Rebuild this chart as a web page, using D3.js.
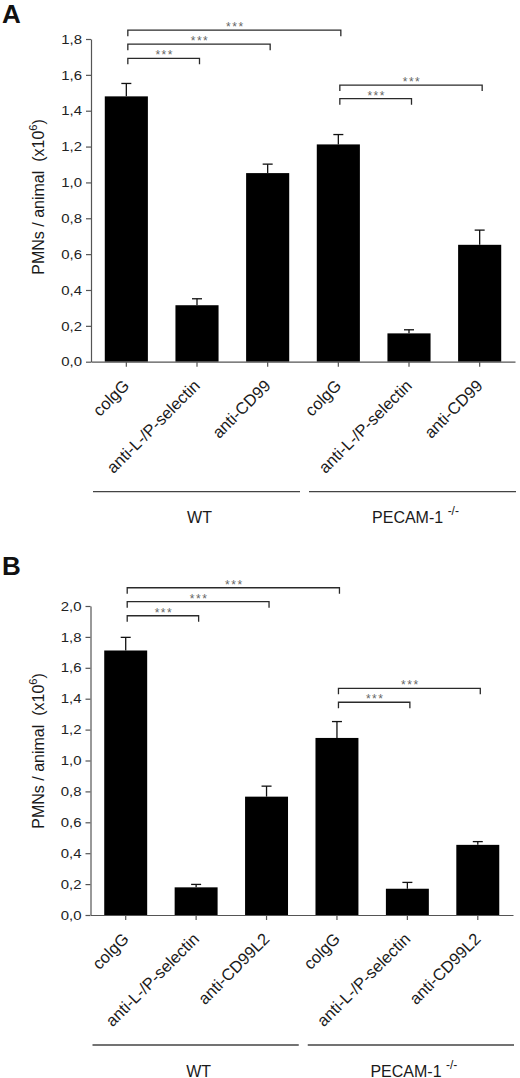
<!DOCTYPE html>
<html>
<head>
<meta charset="utf-8">
<script src="https://cdn.jsdelivr.net/npm/d3@7"></script>
<style>
body { margin: 0; background: #fff; }
svg { display: block; font-family: Arial, "Liberation Sans", sans-serif; }
</style>
</head>
<body>
<svg id="fig"></svg>
<script>
// values (x10^6 PMNs / animal)
var categoriesA = ["colgG", "anti-L-/P-selectin", "anti-CD99", "colgG", "anti-L-/P-selectin", "anti-CD99"];
var categoriesB = ["colgG", "anti-L-/P-selectin", "anti-CD99L2", "colgG", "anti-L-/P-selectin", "anti-CD99L2"];
var groupNames = ["WT", "PECAM-1"];
var groupSup = ["", "-/-"];

var valuesA = [1.48, 0.315, 1.052, 1.212, 0.158, 0.652];
var errorsA = [0.072, 0.036, 0.05, 0.055, 0.02, 0.082];
var valuesB = [1.712, 0.179, 0.766, 1.146, 0.170, 0.454];
var errorsB = [0.085, 0.019, 0.068, 0.106, 0.041, 0.021];

var comparisonsA = [[0, 1], [0, 2], [0, 3], [3, 4], [3, 5]];
var bracketLevelsA = [1.692, 1.771, 1.849, 1.467, 1.543];
var comparisonsB = [[0, 1], [0, 2], [0, 3], [3, 4], [3, 5]];
var bracketLevelsB = [1.937, 2.028, 2.118, 1.377, 1.467];
var starText = "***";

var yTicksA = [0, 0.2, 0.4, 0.6, 0.8, 1.0, 1.2, 1.4, 1.6, 1.8];
var yTicksB = [0, 0.2, 0.4, 0.6, 0.8, 1.0, 1.2, 1.4, 1.6, 1.8, 2.0];

var screen = { width: 520, height: 1078 };

var svg = d3.select("#fig")
  .attr("width", screen.width)
  .attr("height", screen.height);

var commaFmt = d3.formatLocale({ decimal: ",", thousands: ".", grouping: [3], currency: ["", ""] }).format(".1f");
var tickStretch = 1.15;

var drawPanel = function(p)
{
  var g = svg.append("g").classed("panel", true);

  var xScale = d3.scaleBand()
    .domain(d3.range(p.categories.length))
    .range([p.left, p.right])
    .paddingInner(0.39)
    .paddingOuter(0.195);

  var yScale = d3.scaleLinear()
    .domain([0, p.yMax])
    .range([p.bottom, p.top]);

  var cx = function(i) { return xScale(i) + xScale.bandwidth() / 2; };

  // panel letter
  g.append("text")
    .text(p.letter)
    .attr("x", 2)
    .attr("y", p.letterY)
    .attr("font-size", 26)
    .attr("font-weight", "bold")
    .attr("fill", "#111");

  // bars
  g.selectAll("rect.bar")
    .data(p.values)
    .enter()
    .append("rect")
    .classed("bar", true)
    .attr("x", function(d, i) { return xScale(i); })
    .attr("width", xScale.bandwidth())
    .attr("y", function(d) { return yScale(d); })
    .attr("height", function(d) { return yScale(0) - yScale(d); })
    .attr("fill", "#000");

  // error bars (upper only)
  var err = g.selectAll("g.err")
    .data(p.values)
    .enter()
    .append("g")
    .classed("err", true)
    .attr("stroke", "#111")
    .attr("stroke-width", 1.3);

  err.append("line")
    .attr("x1", function(d, i) { return cx(i); })
    .attr("x2", function(d, i) { return cx(i); })
    .attr("y1", function(d) { return yScale(d); })
    .attr("y2", function(d, i) { return yScale(d + p.errors[i]); });

  err.append("line")
    .attr("x1", function(d, i) { return cx(i) - 5; })
    .attr("x2", function(d, i) { return cx(i) + 5; })
    .attr("y1", function(d, i) { return yScale(d + p.errors[i]); })
    .attr("y2", function(d, i) { return yScale(d + p.errors[i]); });

  // y axis
  var yAxis = g.append("g")
    .attr("transform", "translate(" + p.left + ",0)")
    .call(d3.axisLeft(yScale).tickValues(p.yTicks).tickSize(5).tickSizeOuter(0).tickFormat(commaFmt));

  yAxis.select(".domain").attr("stroke", "#555").attr("stroke-width", 1.2);
  yAxis.selectAll(".tick line").attr("stroke", "#555").attr("stroke-width", 1.2);
  yAxis.selectAll(".tick text")
    .attr("font-size", 13)
    .attr("font-family", "Arial, 'Liberation Sans', sans-serif")
    .attr("fill", "#222")
    .attr("x", -9 / tickStretch)
    .attr("transform", "scale(" + tickStretch + ",1)");

  // x axis
  var xAxis = g.append("g")
    .attr("transform", "translate(0," + p.bottom + ")")
    .call(d3.axisBottom(xScale).tickSize(5).tickSizeOuter(0).tickFormat(function(i) { return p.categories[i]; }));

  xAxis.select(".domain").attr("stroke", "#555").attr("stroke-width", 1.2);
  xAxis.selectAll(".tick line").attr("stroke", "#555").attr("stroke-width", 1.2);
  xAxis.selectAll(".tick text")
    .attr("font-size", 16.5)
    .attr("font-family", "Arial, 'Liberation Sans', sans-serif")
    .attr("fill", "#1a1a1a")
    .attr("text-anchor", "end")
    .attr("x", 0)
    .attr("y", 0)
    .attr("dy", 0)
    .attr("transform", "translate(4,25) rotate(-45)");

  // y label
  var yLab = g.append("text")
    .attr("transform", "translate(43.5," + p.labelY + ") rotate(-90)")
    .attr("text-anchor", "middle")
    .attr("font-size", 16)
    .attr("fill", "#1a1a1a");
  yLab.append("tspan").text("PMNs / animal\u00a0\u00a0(x10");
  yLab.append("tspan").text("6").attr("font-size", 11).attr("dy", -7);
  yLab.append("tspan").text(")").attr("dy", 7);

  // significance brackets
  var br = g.selectAll("g.bracket")
    .data(p.comparisons)
    .enter()
    .append("g")
    .classed("bracket", true);

  br.append("path")
    .attr("d", function(c, i) {
      var x1 = cx(c[0]) + 1.5, x2 = cx(c[1]) + 2.5, y = yScale(p.levels[i]);
      return "M" + x1 + "," + (y + 6) + "V" + y + "H" + x2 + "V" + (y + 6);
    })
    .attr("fill", "none")
    .attr("stroke", "#2a2a2a")
    .attr("stroke-width", 1.3);

  br.append("text")
    .text(starText)
    .attr("x", function(c) { return (cx(c[0]) + cx(c[1])) / 2 + 3; })
    .attr("y", function(c, i) { return yScale(p.levels[i]) + 1; })
    .attr("text-anchor", "middle")
    .attr("font-size", 12)
    .attr("letter-spacing", 1.5)
    .attr("fill", "#666");

  // group lines and names
  var mid = (p.left + p.right) / 2;
  var groupSpans = [[p.left + 2, mid - 3], [mid + 6, p.right + 1]];
  var gy = p.bottom + 130;

  var grp = g.selectAll("g.group")
    .data(groupNames)
    .enter()
    .append("g")
    .classed("group", true);

  grp.append("line")
    .attr("x1", function(d, i) { return groupSpans[i][0]; })
    .attr("x2", function(d, i) { return groupSpans[i][1]; })
    .attr("y1", gy)
    .attr("y2", gy)
    .attr("stroke", "#444")
    .attr("stroke-width", 1.3);

  var gt = grp.append("text")
    .attr("x", function(d, i) { return (groupSpans[i][0] + groupSpans[i][1]) / 2 + 3; })
    .attr("y", gy + 31.5)
    .attr("text-anchor", "middle")
    .attr("font-size", 16)
    .attr("fill", "#1a1a1a");
  gt.append("tspan").text(function(d, i) { return groupSup[i] ? d + "\u00a0" : d; });
  gt.append("tspan")
    .text(function(d, i) { return groupSup[i]; })
    .attr("font-size", 12)
    .attr("dy", -8);
};

drawPanel({
  letter: "A", letterY: 23,
  left: 91, right: 515, top: 39, bottom: 361.7, yMax: 1.8,
  labelY: 197,
  categories: categoriesA, values: valuesA, errors: errorsA,
  comparisons: comparisonsA, levels: bracketLevelsA, yTicks: yTicksA
});

drawPanel({
  letter: "B", letterY: 575,
  left: 90.5, right: 513, top: 606, bottom: 915, yMax: 2.0,
  labelY: 751,
  categories: categoriesB, values: valuesB, errors: errorsB,
  comparisons: comparisonsB, levels: bracketLevelsB, yTicks: yTicksB
});
</script>
</body>
</html>
